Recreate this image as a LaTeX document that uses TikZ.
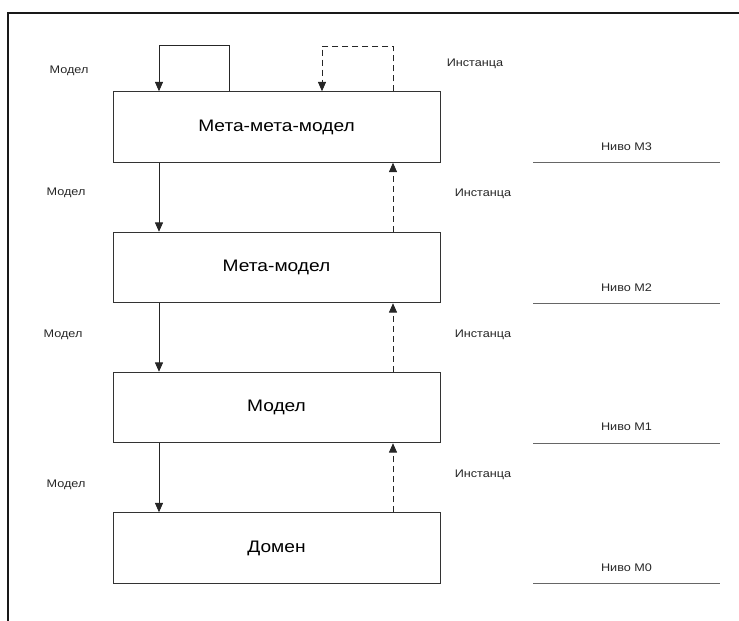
\documentclass[tikz,border=0pt]{standalone}
\usepackage{fontspec}
\setmainfont[FakeStretch=1.15]{Liberation Sans}
\usetikzlibrary{arrows.meta}
\begin{document}
\begin{tikzpicture}[x=0.75pt,y=-0.75pt,
  box/.style={draw=black!80,line width=0.7pt,minimum width=245.25pt,minimum height=52.9pt,
    inner sep=0pt,font=\fontsize{12.5}{14}\selectfont},
  lbl/.style={font=\fontsize{8.25}{10}\selectfont,text=black!85},
  model/.style={black!85,line width=0.7pt,-{Triangle[length=7pt,width=6pt]}},
  inst/.style={model,dash pattern=on 4.5pt off 3pt},
  level/.style={draw=black!60,line width=0.7pt}]
\useasboundingbox (0,0) rectangle (739,621);
% frame
\draw[line width=1.5pt,black!90] (739,12.5) -- (8,12.5) -- (8,621);
% levels
\node[box] (mmm) at (276.5,127) {Мета-мета-модел};
\node[box] (mm) at (276.5,267.5) {Мета-модел};
\node[box] (m) at (276.5,407.5) {Модел};
\node[box] (d) at (276.5,548) {Домен};
% self loops on top
\draw[model] (mmm.north -| 229,0) |- (159,45) -- (mmm.north -| 159,0);
\draw[inst] (mmm.north -| 393,0) |- (322,46) -- (mmm.north -| 322,0);
% model down, instance up
\draw[model] (mmm.south -| 159,0) -- (mm.north -| 159,0);
\draw[model] (mm.south -| 159,0) -- (m.north -| 159,0);
\draw[model] (m.south -| 159,0) -- (d.north -| 159,0);
\draw[inst] (mm.north -| 393,0) -- (mmm.south -| 393,0);
\draw[inst] (m.north -| 393,0) -- (mm.south -| 393,0);
\draw[inst] (d.north -| 393,0) -- (m.south -| 393,0);
% labels
\node[lbl] (ml3) at (69,71) {Модел};
\node[lbl] (ml2) at (66,193) {Модел};
\node[lbl] (ml1) at (63,335) {Модел};
\node[lbl] (ml0) at (66,485) {Модел};
\node[lbl] (il3) at (475,64) {Инстанца};
\node[lbl] (il2) at (483,194) {Инстанца};
\node[lbl] (il1) at (483,335) {Инстанца};
\node[lbl] (il0) at (483,475) {Инстанца};
% level lines
\draw[level] (mmm.south -| 533,0) -- (mmm.south -| 720,0) node[lbl,midway,yshift=12pt] (n3) {Ниво М3};
\draw[level] (mm.south -| 533,0) -- (mm.south -| 720,0) node[lbl,midway,yshift=12pt] (n2) {Ниво М2};
\draw[level] (m.south -| 533,0) -- (m.south -| 720,0) node[lbl,midway,yshift=12pt] (n1) {Ниво М1};
\draw[level] (d.south -| 533,0) -- (d.south -| 720,0) node[lbl,midway,yshift=12pt] (n0) {Ниво М0};
\end{tikzpicture}
\end{document}
